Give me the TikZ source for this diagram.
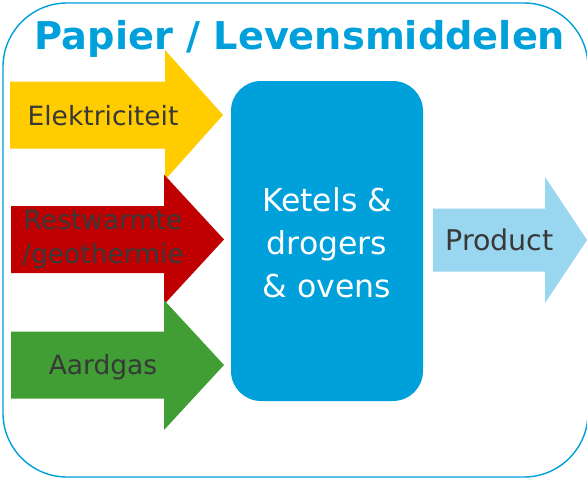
\documentclass[tikz,border=0pt]{standalone}
\usepackage{fontspec}
\setmainfont{DejaVu Sans}
\usepackage{tikz}
\usetikzlibrary{positioning,calc}
\definecolor{pvblauw}{RGB}{0,160,218}
\definecolor{pvlicht}{RGB}{153,214,240}
\definecolor{pvgeel}{RGB}{255,204,0}
\definecolor{pvrood}{RGB}{192,0,0}
\definecolor{pvgroen}{RGB}{64,158,53}
\definecolor{pvtekst}{RGB}{56,56,56}

\begin{document}
\begin{tikzpicture}[x=1pt, y=-1pt,
  kader/.style={draw=pvblauw, line width=1.4pt, rounded corners=64pt},
  bron/.style={align=center, text=pvtekst, inner sep=0pt,
    font=\fontsize{26.5}{34}\selectfont},
  proces/.style={fill=pvblauw, rounded corners=30pt},
  titel/.style={text=pvblauw, inner sep=0pt,
    font=\fontsize{38.3}{40}\selectfont\bfseries}
]
  \clip (0,0) rectangle (587,479);

  % outer frame + title
  \draw[kader] (3,3) rectangle (588,477);
  \node[titel, anchor=base] (titel) at (300,49.5) {Papier / Levensmiddelen};

  % input arrows
  \fill[pvgeel]  (10,81.5) -- (165,81.5) -- (165,50) -- (223,115)
                 -- (165,180) -- (165,148.5) -- (10,148.5) -- cycle;
  \fill[pvrood]  (11,206) -- (164,206) -- (164,174.5) -- (224,239.5)
                 -- (164,304.5) -- (164,273) -- (11,273) -- cycle;
  \fill[pvgroen] (11,331.5) -- (164,331.5) -- (164,300) -- (224,365)
                 -- (164,430) -- (164,398.5) -- (11,398.5) -- cycle;

  \node[bron] (elek)  at (103,116) {Elektriciteit};
  \node[bron] (rest)  at (103,240) {Restwarmte\\/geothermie};
  \node[bron] (gas)   at (103,367) {Aardgas};

  % process block
  \fill[proces] (231,81) rectangle (423,401);
  \node[align=center, text=white, font=\fontsize{31.5}{43}\selectfont]
    (ketels) at (327,243) {Ketels \&\\drogers\\\& ovens};

  % output arrow
  \fill[pvlicht] (433,208.5) -- (545,208.5) -- (545,177) -- (587,240)
                 -- (545,303) -- (545,271.5) -- (433,271.5) -- cycle;
  \node[bron, font=\fontsize{28.5}{34}\selectfont] (product) at (499.5,240) {Product};
\end{tikzpicture}
\end{document}
